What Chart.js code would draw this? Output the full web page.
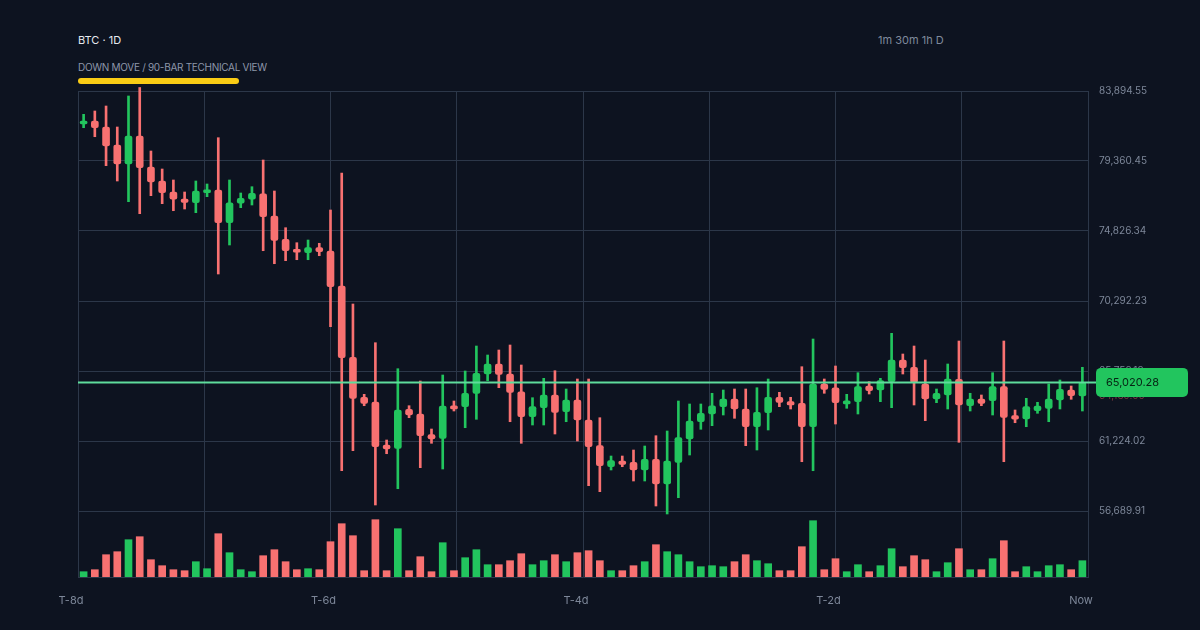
<!DOCTYPE html>
<html>
<head>
<meta charset="utf-8">
<script src="https://cdn.jsdelivr.net/npm/chart.js@4.4.1/dist/chart.umd.min.js"></script>
<style>
  html, body { margin: 0; padding: 0; background: #0d1320; }
  body { width: 1200px; height: 630px; position: relative; overflow: hidden; font-family: Inter, sans-serif; }
  #wrap { position: absolute; left: 0; top: 0; width: 1200px; height: 630px; }
  .title { position: absolute; left: 78px; top: 33px; color: #e6e9ef; font-size: 11px; }
  .sub { position: absolute; left: 78px; top: 61px; color: #8d97aa; font-size: 10px; letter-spacing: -0.3px; }
  .hl { position: absolute; left: 78px; top: 78px; width: 161px; height: 6px; border-radius: 3px; background: #facc15; }
  .tf { position: absolute; left: 878px; top: 33px; color: #7f8a9c; font-size: 11px; }
</style>
</head>
<body>
<div class="title">BTC · 1D</div>
<div class="sub">DOWN MOVE / 90-BAR TECHNICAL VIEW</div>
<div class="hl"></div>
<div class="tf">1m 30m 1h D</div>
<div id="wrap"><canvas id="chart" width="1200" height="630"></canvas></div>
<script>
// price axis labels and x labels
const priceTicks = [83894.55, 79360.45, 74826.34, 70292.23, 65758.12, 61224.02, 56689.91];
const xTickLabels = ['T-8d', '', 'T-6d', '', 'T-4d', '', 'T-2d', '', 'Now'];

// candles (90 bars)
const opens = [81757, 81951, 81563, 80397, 79166, 80980, 78972, 78065, 77352, 76899,
  76659, 77307, 77482, 75364, 76621, 76880, 77242, 75798, 74289, 73641,
  73421, 73745, 73531, 71264, 66645, 64055, 63750, 60965, 60751, 63277,
  62973, 61632, 61399, 63510, 63446, 64314, 65564, 66212, 65564, 64417,
  62798, 63381, 64204, 63122, 63880, 62584, 60920, 59559, 59929, 59844,
  59346, 60039, 58439, 59844, 61354, 62474, 62973, 63446, 63944, 63297,
  62150, 63057, 64055, 63770, 63665, 62150, 64916, 64676, 63621, 63770,
  64787, 64527, 65065, 66471, 65998, 64916, 63944, 64204, 65220, 63510,
  63944, 63834, 64741, 62863, 62649, 63187, 63342, 63880, 64527, 64139];
const highs = [82385, 82599, 82923, 81563, 83571, 84121, 80008, 78842, 78130, 77352,
  78065, 77871, 80870, 78130, 77288, 77696, 79425, 77417, 75040, 74068,
  74243, 74030, 76187, 78583, 70098, 64249, 67591, 61289, 65907, 63510,
  65110, 62001, 65499, 63815, 65758, 67377, 66794, 67118, 67442, 66147,
  64029, 65285, 65778, 64592, 65240, 65240, 62733, 60252, 60252, 60641,
  60900, 61567, 61872, 63815, 63621, 63621, 64314, 64527, 64592, 64592,
  64676, 65240, 64378, 64055, 66037, 67831, 65240, 66082, 64249, 65648,
  65065, 65285, 68200, 66859, 67377, 66471, 64592, 66212, 67701, 64314,
  64204, 65648, 67701, 63232, 63990, 63731, 64916, 65175, 64787, 65998];
const lows = [81517, 80934, 79056, 78065, 76724, 75947, 77113, 76595, 76141, 76251,
  76012, 77048, 72041, 73920, 76336, 76510, 73550, 72708, 72903, 72967,
  72967, 73226, 68628, 59300, 60596, 63510, 57079, 60401, 58134, 62733,
  59495, 61075, 59410, 63167, 62085, 62630, 65130, 64676, 62474, 61075,
  62260, 62260, 61677, 62474, 61224, 58329, 57940, 59346, 59559, 58633,
  58633, 57014, 56496, 57551, 60317, 61982, 62215, 62908, 62694, 60920,
  60641, 61937, 63446, 63297, 59883, 59300, 64314, 62325, 63342, 62973,
  64268, 63770, 63381, 65564, 63556, 62539, 63705, 63297, 61140, 63167,
  63510, 62908, 59883, 62409, 62150, 63018, 62474, 63297, 63925, 63167];
const closes = [81951, 81517, 80332, 79166, 80980, 78926, 78000, 77307, 76880, 76685,
  77417, 77501, 75364, 76659, 76944, 77268, 75753, 74224, 73550, 73447,
  73745, 73486, 71218, 66620, 63990, 63665, 60855, 60706, 63232, 62908,
  61567, 61354, 63491, 63297, 64314, 65609, 66212, 65544, 64378, 62798,
  63446, 64204, 63083, 63880, 62584, 60855, 59624, 59948, 59715, 59346,
  60039, 58439, 59929, 61438, 62519, 63018, 63510, 63944, 63297, 62150,
  63083, 64055, 63731, 63556, 62150, 64916, 64573, 63705, 63834, 64741,
  64482, 65130, 66471, 65972, 65000, 63944, 64314, 65240, 63556, 63944,
  63665, 64741, 62759, 62630, 63446, 63491, 63944, 64573, 64158, 65020.28];
const volumes = [530, 730, 2230, 2530, 3730, 4030, 1730, 1130, 730, 630,
  1530, 830, 4330, 2430, 730, 530, 2130, 2730, 1530, 730,
  830, 730, 3530, 5330, 4130, 630, 5730, 630, 4830, 630,
  2030, 530, 3430, 630, 1930, 2730, 1230, 1230, 1630, 2330,
  1230, 1630, 2230, 1530, 2430, 2630, 1630, 630, 630, 1130,
  1530, 3230, 2530, 2230, 1530, 1030, 1130, 1030, 1530, 2230,
  1630, 1330, 630, 630, 3030, 5630, 730, 1830, 530, 1230,
  530, 1130, 2830, 1030, 2130, 1730, 530, 1430, 2830, 730,
  730, 1830, 3630, 530, 1030, 530, 1130, 1230, 730, 1630];

const up = '#22c55e';
const down = '#f87171';
const gridColor = '#2c3749';
const lastPrice = closes[closes.length - 1];
const lastOpen = opens[opens.length - 1];

const colors = closes.map((c, i) => c >= opens[i] ? up : down);
const bodies = opens.map((o, i) => ({ x: i + 0.5, y: [o, closes[i]] }));
const wicks = lows.map((l, i) => ({ x: i + 0.5, y: [l, highs[i]] }));
const vols = volumes.map((v, i) => ({ x: i + 0.5, y: v }));

const fmt = v => v.toLocaleString('en-US', { minimumFractionDigits: 2, maximumFractionDigits: 2 });

// last price line + tag
const lastPricePlugin = {
  id: 'lastPrice',
  afterDraw(chart) {
    const ctx = chart.ctx;
    const area = chart.chartArea;
    const yScale = chart.scales.y;
    const y = yScale.getPixelForValue(lastPrice);
    const bx = area.right + 8;
    ctx.save();
    ctx.font = '10px Inter';
    ctx.textBaseline = 'middle';
    ctx.fillStyle = '#7a3a40';
    ctx.fillText(fmt(lastOpen), area.right + 11, yScale.getPixelForValue(lastOpen));
    ctx.strokeStyle = '#5fdc9c';
    ctx.lineWidth = 2;
    ctx.beginPath();
    ctx.moveTo(area.left, y);
    ctx.lineTo(bx + 2, y);
    ctx.stroke();
    ctx.fillStyle = up;
    ctx.beginPath();
    ctx.roundRect(bx, y - 14.5, 92, 29, 5);
    ctx.fill();
    ctx.fillStyle = '#062414';
    ctx.font = '11px Inter';
    ctx.fillText(fmt(lastPrice), bx + 10, y);
    ctx.restore();
  }
};

new Chart(document.getElementById('chart'), {
  type: 'bar',
  data: {
    datasets: [
      { data: bodies, backgroundColor: colors, barThickness: 7, borderRadius: 2, borderSkipped: false, grouped: false, minBarLength: 2, yAxisID: 'y' },
      { data: wicks, backgroundColor: colors, barThickness: 2, grouped: false, yAxisID: 'y', clip: false },
      { data: vols, backgroundColor: colors, barThickness: 7, grouped: false, yAxisID: 'v' }
    ]
  },
  options: {
    responsive: false,
    animation: false,
    events: [],
    layout: { padding: { left: 78, top: 91, right: 0, bottom: 0 } },
    plugins: { legend: { display: false }, tooltip: { enabled: false } },
    scales: {
      x: {
        type: 'linear',
        min: 0,
        max: 90,
        offset: false,
        afterBuildTicks: s => { s.ticks = xTickLabels.map((_, k) => ({ value: k * 11.25 })); },
        afterFit: s => { s.height = 53; },
        grid: { color: gridColor, drawTicks: false, offset: false },
        border: { color: gridColor },
        ticks: {
          callback: (v, i) => xTickLabels[i],
          color: '#7d8799',
          font: { family: 'Inter', size: 11 },
          padding: 17,
          labelOffset: -7,
          maxRotation: 0,
          autoSkip: false
        }
      },
      y: {
        position: 'right',
        min: 52414.9,
        max: 83894.55,
        afterBuildTicks: s => { s.ticks = priceTicks.map(v => ({ value: v })); },
        afterFit: s => { s.width = 112; },
        grid: { color: gridColor, drawTicks: false },
        border: { color: gridColor },
        ticks: {
          callback: v => fmt(v),
          color: '#7d8799',
          font: { family: 'Inter', size: 10 },
          padding: 11
        }
      },
      v: { display: false, min: 0, max: 48600 }
    }
  },
  plugins: [lastPricePlugin]
});
</script>
</body>
</html>
